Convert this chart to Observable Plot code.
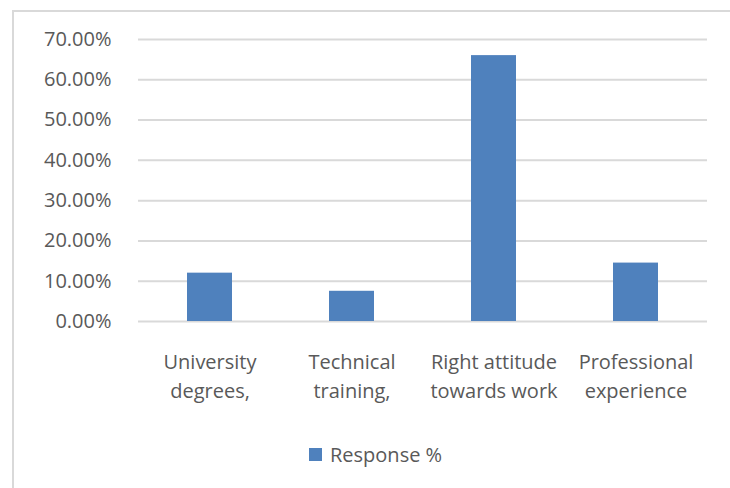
<!DOCTYPE html>
<html>
<head>
<meta charset="utf-8">
<script src="https://cdn.jsdelivr.net/npm/d3@7"></script>
<script src="https://cdn.jsdelivr.net/npm/@observablehq/plot@0.6"></script>
<style>
  html, body { margin: 0; padding: 0; background: #fff; }
  #wrap { position: relative; width: 730px; height: 488px; overflow: hidden; background: #fff; }
  #frame { position: absolute; left: 12px; top: 10px; width: 900px; height: 700px;
           border-left: 2px solid #d9d9d9; border-top: 2px solid #d9d9d9; box-sizing: border-box; }
  #chart { position: absolute; left: 0; top: 0; }
  #legend { position: absolute; left: 309px; top: 443px; height: 22px; display: flex; align-items: center;
            font-family: 'Open Sans', sans-serif; font-size: 20px; color: #595959; }
  #legend .sw { width: 13px; height: 13px; background: #4f81bd; margin-right: 8px; }
</style>
</head>
<body>
<div id="wrap">
  <div id="frame"></div>
  <div id="chart"></div>
  <div id="legend"><div class="sw"></div><span id="legendText"></span></div>
</div>
<script>
const categories = [
  "University\ndegrees,",
  "Technical\ntraining,",
  "Right attitude\ntowards work",
  "Professional\nexperience"
];
const responses = [0.12, 0.075, 0.66, 0.145];
const yTicks = [0, 0.1, 0.2, 0.3, 0.4, 0.5, 0.6, 0.7];
const seriesName = "Response %";

const data = categories.map((c, i) => ({category: c, value: responses[i]}));

const chart = Plot.plot({
  width: 730,
  height: 430,
  marginTop: 39,
  marginBottom: 109,
  marginLeft: 138,
  marginRight: 23,
  style: {background: "none", color: "#595959", fontFamily: "'Open Sans', sans-serif", fontSize: "20px"},
  x: {domain: categories, paddingInner: 0.684, paddingOuter: 0.342, label: null},
  y: {domain: [0, 0.7], label: null},
  marks: [
    Plot.gridY(yTicks, {stroke: "#d9d9d9", strokeOpacity: 1, strokeWidth: 2}),
    Plot.barY(data, {x: "category", y: "value", fill: "#4f81bd"}),
    Plot.axisY(yTicks, {tickSize: 0, tickPadding: 27, tickFormat: d3.format(".2%"), label: null}),
    Plot.axisX({tickSize: 0, tickPadding: 27, lineHeight: 1.45, label: null})
  ]
});
document.getElementById("chart").appendChild(chart);
document.getElementById("legendText").textContent = seriesName;
</script>
</body>
</html>
